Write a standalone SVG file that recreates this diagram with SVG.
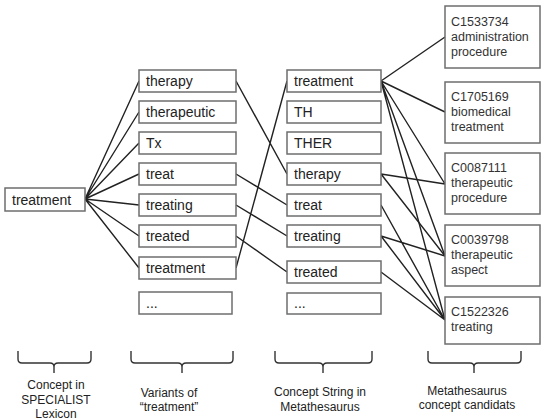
<svg xmlns="http://www.w3.org/2000/svg" width="542" height="420" viewBox="0 0 542 420">
<style>
.box{fill:#fff;stroke:#6e6e6e;stroke-width:1.5}
.t{font-family:"Liberation Sans",Arial,sans-serif;font-size:14px;fill:#222}
.c{font-family:"Liberation Sans",Arial,sans-serif;font-size:12.5px;fill:#333}
.l{font-family:"Liberation Sans",Arial,sans-serif;font-size:12px;fill:#222;text-anchor:middle}
.e{stroke:#222;stroke-width:1.4;fill:none}
.br{stroke:#333;stroke-width:1.4;fill:none}
</style>
<rect width="542" height="420" fill="#fff"/>
<g id="connectors">
<path class="e" d="M85 199L139 81M85 199L139 112M85 199L139 143M85 199L139 174M85 199L139 205M85 199L139 236M85 199L139 268"/>
<path class="e" d="M236 81L287 174M236 174L287 205M236 205L287 236M236 236L287 272M236 268L287 81"/>
<path class="e" d="M381 81L445 37M381 81L445 112M381 81L445 184M381 81L445 256M381 81L445 320"/>
<path class="e" d="M381 174L445 184M381 174L445 256"/>
<path class="e" d="M381 205L445 320M381 236L445 256M381 236L445 320M381 272L445 320"/>
</g>
<g id="n-lex"><rect class="box" x="5" y="188" width="80" height="23"/><text class="t" x="12" y="205">treatment</text></g>
<g id="v-therapy"><rect class="box" x="139" y="70" width="97" height="22"/><text class="t" x="146" y="86">therapy</text></g>
<g id="v-therapeutic"><rect class="box" x="139" y="101" width="97" height="22"/><text class="t" x="146" y="117">therapeutic</text></g>
<g id="v-tx"><rect class="box" x="139" y="132" width="97" height="22"/><text class="t" x="146" y="148">Tx</text></g>
<g id="v-treat"><rect class="box" x="139" y="163" width="97" height="22"/><text class="t" x="146" y="179">treat</text></g>
<g id="v-treating"><rect class="box" x="139" y="194" width="97" height="22"/><text class="t" x="146" y="210">treating</text></g>
<g id="v-treated"><rect class="box" x="139" y="225" width="97" height="22"/><text class="t" x="146" y="241">treated</text></g>
<g id="v-treatment"><rect class="box" x="139" y="257" width="97" height="22"/><text class="t" x="146" y="273">treatment</text></g>
<g id="v-more"><rect class="box" x="139" y="292" width="93" height="22"/><text class="t" x="146" y="308">...</text></g>
<g id="s-treatment"><rect class="box" x="287" y="70" width="94" height="22"/><text class="t" x="294" y="86">treatment</text></g>
<g id="s-th"><rect class="box" x="287" y="101" width="94" height="22"/><text class="t" x="294" y="117">TH</text></g>
<g id="s-ther"><rect class="box" x="287" y="132" width="94" height="22"/><text class="t" x="294" y="148">THER</text></g>
<g id="s-therapy"><rect class="box" x="287" y="163" width="94" height="22"/><text class="t" x="294" y="179">therapy</text></g>
<g id="s-treat"><rect class="box" x="287" y="194" width="94" height="22"/><text class="t" x="294" y="210">treat</text></g>
<g id="s-treating"><rect class="box" x="287" y="225" width="94" height="22"/><text class="t" x="294" y="241">treating</text></g>
<g id="s-treated"><rect class="box" x="287" y="261" width="94" height="22"/><text class="t" x="294" y="277">treated</text></g>
<g id="s-more"><rect class="box" x="287" y="293" width="94" height="21"/><text class="t" x="294" y="308">...</text></g>
<g id="c1"><rect class="box" x="445" y="6" width="95" height="62"/><text class="c" x="451" y="26">C1533734</text><text class="c" x="451" y="41">administration</text><text class="c" x="451" y="56">procedure</text></g>
<g id="c2"><rect class="box" x="445" y="82" width="95" height="61"/><text class="c" x="451" y="101">C1705169</text><text class="c" x="451" y="116">biomedical</text><text class="c" x="451" y="131">treatment</text></g>
<g id="c3"><rect class="box" x="445" y="153" width="95" height="61"/><text class="c" x="451" y="172">C0087111</text><text class="c" x="451" y="187">therapeutic</text><text class="c" x="451" y="202">procedure</text></g>
<g id="c4"><rect class="box" x="445" y="225" width="95" height="61"/><text class="c" x="451" y="244">C0039798</text><text class="c" x="451" y="259">therapeutic</text><text class="c" x="451" y="274">aspect</text></g>
<g id="c5"><rect class="box" x="445" y="297" width="95" height="47"/><text class="c" x="451" y="316">C1522326</text><text class="c" x="451" y="331">treating</text></g>
<g id="braces">
<path class="br" d="M18 351V359Q18 363 22 363H50Q54 363 54 367V373M54 367Q54 363 58 363H87Q91 363 91 359V351"/>
<path class="br" d="M131 351V359Q131 363 135 363H178Q182 363 182 367V373M182 367Q182 363 186 363H229Q233 363 233 359V351"/>
<path class="br" d="M275 351V359Q275 363 279 363H319Q323 363 323 367V373M323 367Q323 363 327 363H368Q372 363 372 359V351"/>
<path class="br" d="M428 351V359Q428 363 432 363H470Q474 363 474 367V373M474 367Q474 363 478 363H517Q521 363 521 359V351"/>
</g>
<g id="labels">
<text class="l" x="56" y="389">Concept in</text><text class="l" x="56" y="404">SPECIALIST</text><text class="l" x="56" y="418">Lexicon</text>
<text class="l" x="169" y="397">Variants of</text><text class="l" x="169" y="411">“treatment”</text>
<text class="l" x="320" y="396">Concept String in</text><text class="l" x="320" y="411">Metathesaurus</text>
<text class="l" x="467" y="395">Metathesaurus</text><text class="l" x="467" y="409">concept candidats</text>
</g>
</svg>
